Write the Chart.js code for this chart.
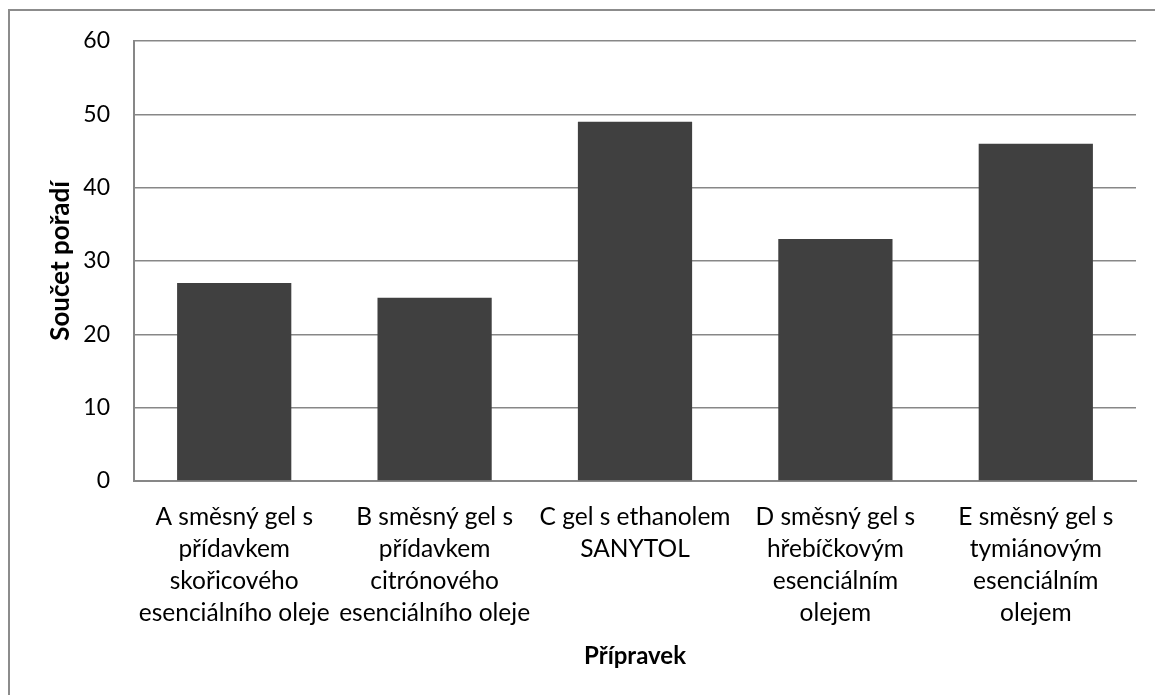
<!DOCTYPE html>
<html>
<head>
<meta charset="utf-8">
<script src="https://cdn.jsdelivr.net/npm/chart.js@4.4.1/dist/chart.umd.min.js"></script>
<style>
  html, body { margin: 0; padding: 0; background: #ffffff; overflow: hidden; }
  #frame {
    position: absolute; left: 8px; top: 9px; width: 1200px; height: 720px;
    border-left: 2px solid #8c8c8c; border-top: 2px solid #8c8c8c;
  }
  #wrap { position: absolute; left: 0; top: 0; width: 1155px; height: 695px; }
</style>
</head>
<body>
<div id="frame"></div>
<div id="wrap"><canvas id="chart" width="1155" height="695"></canvas></div>
<script>
// Product categories (each entry is one wrapped label)
const categories = [
  ["A směsný gel s", "přídavkem", "skořicového", "esenciálního oleje"],
  ["B směsný gel s", "přídavkem", "citrónového", "esenciálního oleje"],
  ["C gel s ethanolem", "SANYTOL"],
  ["D směsný gel s", "hřebíčkovým", "esenciálním", "olejem"],
  ["E směsný gel s", "tymiánovým", "esenciálním", "olejem"]
];
// Sum of rankings per product
const rankSums = [27, 25, 49, 33, 46];
const yTicks = [0, 10, 20, 30, 40, 50, 60];

const FONT = "Lato, 'Open Sans', sans-serif";
const gridColor = "#878787";

new Chart(document.getElementById("chart"), {
  type: "bar",
  data: {
    labels: categories,
    datasets: [{
      label: "Součet pořadí",
      data: rankSums,
      backgroundColor: "#404040",
      borderWidth: 0,
      barPercentage: 0.57,
      categoryPercentage: 1.0
    }]
  },
  options: {
    responsive: false,
    animation: false,
    devicePixelRatio: 1,
    layout: { padding: { top: 41, right: 19, bottom: 0, left: 0 } },
    plugins: {
      legend: { display: false },
      tooltip: { enabled: false }
    },
    scales: {
      x: {
        grid: { display: false, drawTicks: false },
        border: { display: true, color: gridColor, width: 2 },
        ticks: {
          color: "#000000",
          padding: 20,
          maxRotation: 0,
          autoSkip: false,
          font: { family: FONT, size: 24.5, lineHeight: 32 / 24.5 }
        },
        title: {
          display: true,
          text: "Přípravek",
          color: "#000000",
          font: { family: FONT, size: 24, weight: "bold", lineHeight: 1.2 },
          padding: { top: 0, bottom: 24 }
        },
        afterFit: (scale) => { scale.height = 695 - 481; }
      },
      y: {
        min: 0,
        max: 60,
        afterBuildTicks: (scale) => { scale.ticks = yTicks.map(v => ({ value: v })); },
        grid: { color: gridColor, lineWidth: 1.5, drawTicks: false },
        border: { display: true, color: gridColor, width: 2 },
        ticks: {
          color: "#000000",
          padding: 24,
          font: { family: FONT, size: 23 }
        },
        title: {
          display: true,
          text: "Součet pořadí",
          color: "#000000",
          font: { family: FONT, size: 26, weight: "bold", lineHeight: 1.2 },
          padding: { top: 45, bottom: 0 }
        },
        afterFit: (scale) => { scale.width = 134; }
      }
    }
  }
});
</script>
</body>
</html>
